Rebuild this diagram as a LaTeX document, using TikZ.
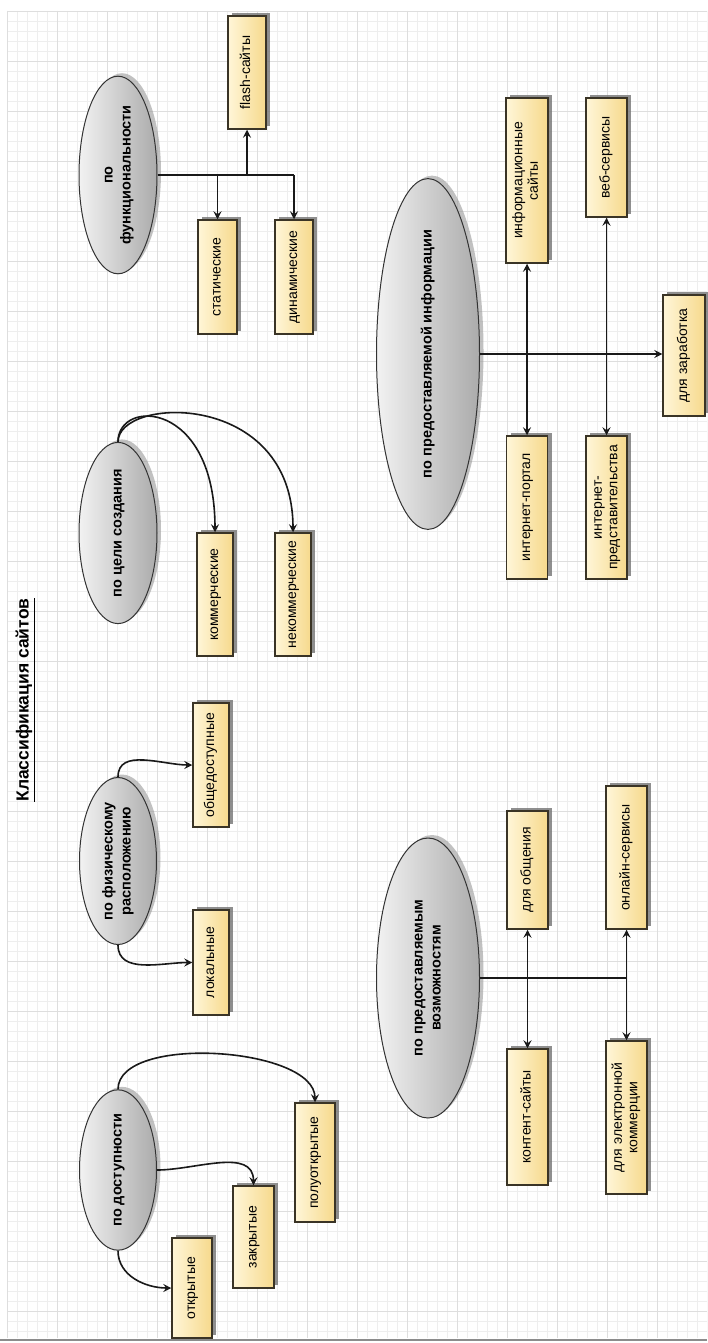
\documentclass[tikz,border=0pt]{standalone}
\usepackage{fontspec}
\setmainfont{Liberation Sans}
\usetikzlibrary{shapes.geometric,shadows,arrows.meta}
\definecolor{bxborder}{HTML}{3A3426}
\definecolor{bxlight}{HTML}{FFF6D8}
\definecolor{bxdark}{HTML}{F6D98C}
\definecolor{ellight}{HTML}{F2F2F2}
\definecolor{eldark}{HTML}{ABABAB}
\definecolor{gridminor}{HTML}{EEEEEE}
\definecolor{gridmajor}{HTML}{DEDEDE}
\newcommand{\rt}[1]{\rotatebox{90}{\begin{tabular}{@{}c@{}}#1\end{tabular}}}
\tikzset{
  bx/.style={rectangle, draw=bxborder, line width=1.5pt, left color=bxlight, right color=bxdark,
    inner sep=0pt, font=\fontsize{14}{15.5}\selectfont,
    drop shadow={shadow xshift=4pt, shadow yshift=3pt, fill=black!55, opacity=0.8}},
  el/.style={ellipse, draw=black!80, line width=1pt, left color=ellight, right color=eldark,
    inner sep=0pt, font=\bfseries\fontsize{14.5}{18}\selectfont,
    drop shadow={shadow xshift=4pt, shadow yshift=3pt, fill=black!40, opacity=0.6}},
  tip/.style={},
  con/.style={line width=1.6pt, draw=black!90, -{Stealth[length=8pt,width=8pt,inset=3pt]}},
  conb/.style={line width=1.6pt, draw=black!90, {Stealth[length=8pt,width=8pt,inset=3pt]}-{Stealth[length=8pt,width=8pt,inset=3pt]}},
  ln/.style={line width=1.6pt, draw=black!90}
}
\begin{document}
\begin{tikzpicture}[x=1pt,y=-1pt]
\useasboundingbox (0,0) rectangle (707,1343);
\fill[white] (0,0) rectangle (707,1343);
% grid
\begin{scope}
\clip (7,11) rectangle (707,1338);
\foreach \i in {0,...,70} {\draw[gridminor, line width=0.6pt] (7+\i*10,11) -- (7+\i*10,1338);}
\foreach \j in {0,...,133} {\draw[gridminor, line width=0.6pt] (7,11+\j*10) -- (707,11+\j*10);}
\foreach \i in {0,...,14} {\draw[gridmajor, line width=0.7pt] (7+\i*50,11) -- (7+\i*50,1338);}
\foreach \j in {0,...,27} {\draw[gridmajor, line width=0.7pt] (7,11+\j*50) -- (707,11+\j*50);}
\end{scope}
\draw[black!45, line width=1.2pt] (0,1340) -- (707,1340);

% title
\node[font=\bfseries\fontsize{17.5}{20}\selectfont] (title) at (25,700) {\rotatebox{90}{\underline{Классификация сайтов}}};

% group 1: functionality
\node[el, minimum width=78pt, minimum height=156pt] (e1) at (118,175) {\rt{по\\функциональности}};
\node[bx, minimum width=38pt, minimum height=113pt] (flash) at (247,72.5) {\rt{flash-сайты}};
\node[bx, minimum width=39pt, minimum height=114pt] (stat) at (217.5,277) {\rt{статические}};
\node[bx, minimum width=38pt, minimum height=114pt] (dyn) at (294,277) {\rt{динамические}};
\draw[ln] (e1.east) -- (dyn.north |- e1.east);
\draw[con] (dyn.north |- e1.east) -- (dyn.north);
\draw[con] (stat.north |- e1.east) -- (stat.north);
\draw[con] (flash.south |- e1.east) -- (flash.south);

% group 2: purpose
\node[el, minimum width=78pt, minimum height=157pt] (e2) at (118,533) {\rt{по цели создания}};
\node[bx, minimum width=36pt, minimum height=123pt] (comm) at (215,594.5) {\rt{коммерческие}};
\node[bx, minimum width=36pt, minimum height=123pt] (noncomm) at (293,594.5) {\rt{некоммерческие}};
\draw[con] (e2.north) .. controls (118,398) and (215,400) .. (comm.north);
\draw[con] (e2.north) .. controls (118,396) and (293,390) .. (noncomm.north);

% group 3: location
\node[el, minimum width=77pt, minimum height=156pt] (e3) at (118,861) {\rt{по физическому\\расположению}};
\node[bx, minimum width=36pt, minimum height=124pt] (public) at (211,765) {\rt{общедоступные}};
\node[bx, minimum width=36pt, minimum height=105pt] (local) at (211,962.5) {\rt{локальные}};
\draw[con] (e3.north) to[out=90,in=180] (public.west);
\draw[con] (e3.south) to[out=-90,in=180] (local.west);

% group 4: accessibility
\node[el, minimum width=77pt, minimum height=135pt] (e4) at (118,1170) {\rt{по доступности}};
\node[bx, minimum width=40pt, minimum height=100pt] (open) at (192,1288) {\rt{открытые}};
\node[bx, minimum width=41pt, minimum height=102pt] (closed) at (253.5,1237) {\rt{закрытые}};
\node[bx, minimum width=40pt, minimum height=119pt] (semi) at (315,1162.5) {\rt{полуоткрытые}};
\draw[con] (e4.south) to[out=-90,in=180] (open.west);
\draw[con] (e4.east) to[out=0,in=90] (closed.north);
\draw[con] (e4.north) to[out=90,in=90,looseness=0.72] (semi.north);

% group 5: information
\node[el, minimum width=103pt, minimum height=282pt] (e5) at (428,354) {\rt{по предоставляемой информации}};
\node[bx, minimum width=42pt, minimum height=165pt] (info) at (527,180.5) {\rt{информационные\\сайты}};
\node[bx, minimum width=41pt, minimum height=119pt] (web) at (606.5,157.5) {\rt{веб-сервисы}};
\node[bx, minimum width=42pt, minimum height=121pt] (earn) at (684,355.5) {\rt{для заработка}};
\node[bx, minimum width=41pt, minimum height=143pt] (portal) at (527,507.5) {\rt{интернет-портал}};
\node[bx, minimum width=41pt, minimum height=143pt] (repr) at (606.5,507.5) {\rt{интернет-\\представительства}};
\draw[con] (e5.east) -- (earn.west |- e5.east);
\draw[conb] (info.south) -- (portal.north);
\draw[conb] (web.south) -- (repr.north);

% group 6: capabilities
\node[el, minimum width=103pt, minimum height=280pt] (e6) at (428,978) {\rt{по предоставляемым\\возможностям}};
\node[bx, minimum width=41pt, minimum height=118pt] (talk) at (527.5,870) {\rt{для общения}};
\node[bx, minimum width=41pt, minimum height=143pt] (online) at (626.5,857.5) {\rt{онлайн-сервисы}};
\node[bx, minimum width=41pt, minimum height=136pt] (content) at (527.5,1117) {\rt{контент-сайты}};
\node[bx, minimum width=41pt, minimum height=153pt] (ecom) at (626.5,1117.5) {\rt{для электронной\\коммерции}};
\draw[ln] (e6.east) -- (online.south |- e6.east);
\draw[conb] (talk.south) -- (content.north);
\draw[conb] (online.south) -- (ecom.north);
\end{tikzpicture}
\end{document}
